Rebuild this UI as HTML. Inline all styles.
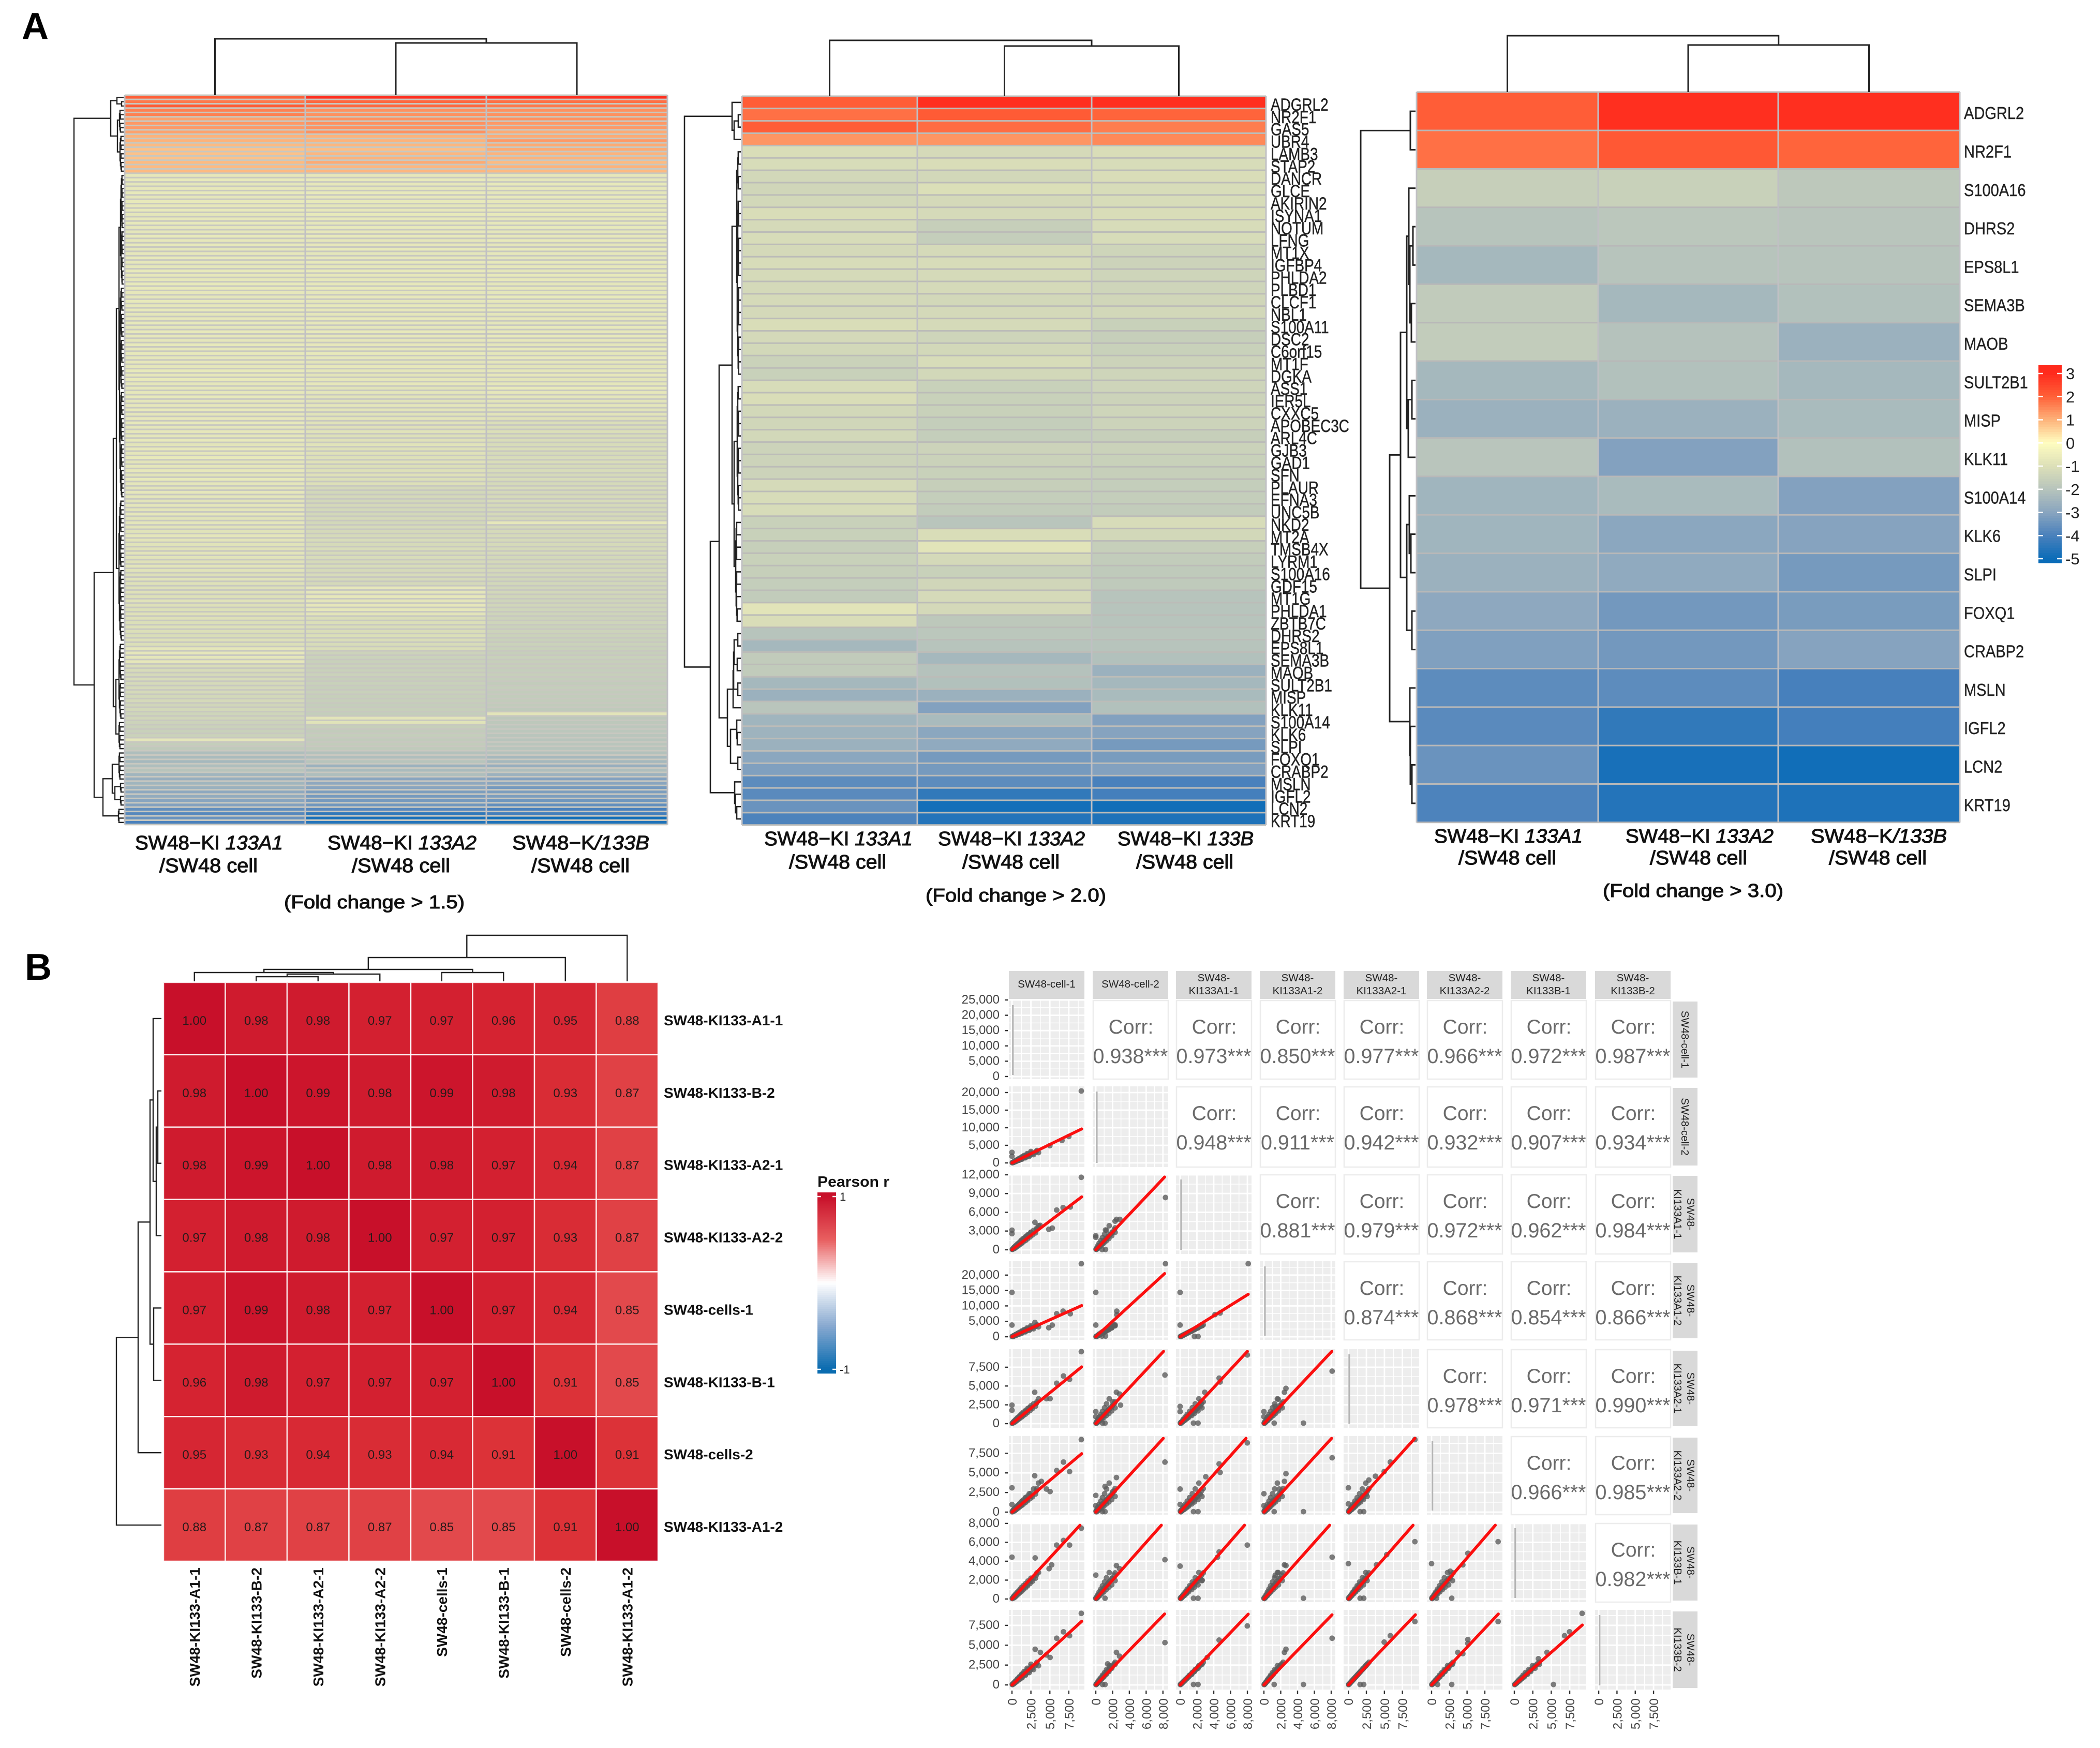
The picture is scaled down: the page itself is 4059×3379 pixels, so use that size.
<!DOCTYPE html>
<html lang="en">
<head>
<meta charset="utf-8">
<title>SW48 knock-in heatmaps and correlation</title>
<style>
html,body{margin:0;padding:0;background:#fff}
svg{display:block;font-family:"Liberation Sans",sans-serif}
.sub{font-size:38px;fill:#111;stroke:#111;stroke-width:1.1px}
.fold{font-size:36px;fill:#111;stroke:#111;stroke-width:1.1px}
.letter{font-size:72px;font-weight:bold;fill:#000}
</style>
</head>
<body>
<svg id="fig" xmlns="http://www.w3.org/2000/svg" width="4059" height="3379" viewBox="0 0 4059 3379">
<rect width="4059" height="3379" fill="#fff"/>
<text class="letter" x="42" y="75">A</text>
<text class="letter" x="48" y="1894">B</text>

<g id="hm1"></g>
<g id="hm2"></g>
<g id="hm3"></g>
<g id="cbar"></g>
<g id="hmB"></g>
<g id="scat"></g>

<g>
<text class="sub" x="261" y="1642" textLength="286" lengthAdjust="spacingAndGlyphs">SW48−KI <tspan font-style="italic">133A1</tspan></text>
<text class="sub" x="308" y="1686" textLength="190" lengthAdjust="spacingAndGlyphs">/SW48 cell</text>
<text class="sub" x="633" y="1642" textLength="288" lengthAdjust="spacingAndGlyphs">SW48−KI <tspan font-style="italic">133A2</tspan></text>
<text class="sub" x="680" y="1686" textLength="190" lengthAdjust="spacingAndGlyphs">/SW48 cell</text>
<text class="sub" x="990" y="1642" textLength="265" lengthAdjust="spacingAndGlyphs">SW48−K<tspan font-style="italic">/133B</tspan></text>
<text class="sub" x="1027" y="1686" textLength="190" lengthAdjust="spacingAndGlyphs">/SW48 cell</text>
<text class="fold" x="549" y="1756" textLength="349" lengthAdjust="spacingAndGlyphs">(Fold change &gt; 1.5)</text>
</g>
<g>
<text class="sub" x="1477" y="1634" textLength="287" lengthAdjust="spacingAndGlyphs">SW48−KI <tspan font-style="italic">133A1</tspan></text>
<text class="sub" x="1525" y="1679" textLength="188" lengthAdjust="spacingAndGlyphs">/SW48 cell</text>
<text class="sub" x="1813" y="1634" textLength="284" lengthAdjust="spacingAndGlyphs">SW48−KI <tspan font-style="italic">133A2</tspan></text>
<text class="sub" x="1860" y="1679" textLength="188" lengthAdjust="spacingAndGlyphs">/SW48 cell</text>
<text class="sub" x="2160" y="1634" textLength="263" lengthAdjust="spacingAndGlyphs">SW48−KI <tspan font-style="italic">133B</tspan></text>
<text class="sub" x="2196" y="1679" textLength="188" lengthAdjust="spacingAndGlyphs">/SW48 cell</text>
<text class="fold" x="1789" y="1743" textLength="349" lengthAdjust="spacingAndGlyphs">(Fold change &gt; 2.0)</text>
</g>
<g>
<text class="sub" x="2772" y="1629" textLength="287" lengthAdjust="spacingAndGlyphs">SW48−KI <tspan font-style="italic">133A1</tspan></text>
<text class="sub" x="2819" y="1671" textLength="189" lengthAdjust="spacingAndGlyphs">/SW48 cell</text>
<text class="sub" x="3142" y="1629" textLength="286" lengthAdjust="spacingAndGlyphs">SW48−KI <tspan font-style="italic">133A2</tspan></text>
<text class="sub" x="3189" y="1671" textLength="188" lengthAdjust="spacingAndGlyphs">/SW48 cell</text>
<text class="sub" x="3500" y="1629" textLength="263" lengthAdjust="spacingAndGlyphs">SW48−K<tspan font-style="italic">/133B</tspan></text>
<text class="sub" x="3535" y="1671" textLength="189" lengthAdjust="spacingAndGlyphs">/SW48 cell</text>
<text class="fold" x="3098" y="1734" textLength="349" lengthAdjust="spacingAndGlyphs">(Fold change &gt; 3.0)</text>
</g>
</svg>

<script>
// ---------- heatmap 1 (fold change > 1.5), log2 fold change by row ----------
const hm1ColA = [2.0,1.7,2.1,1.6,1.6,1.2,1.3,1.3,1.2,1.0,1.0,0.9,0.8,0.8,0.8,0.9,0.9,0.9,
-.75,-.7,-.8,-.75,-.7,-.8,-.7,-.75,-.7,-.8,-.75,-.7,-.75,-.8,-.7,-.75,-.7,-.8,-.75,
-.7,-.75,-.8,-.7,-.75,-.8,-.7,-.7,-.75,-.8,-.7,-.75,-.7,-.8,-.75,-.7,-.8,-.7,-.75,
-.8,-.7,-.75,-.7,-.8,-.75,-.8,-.7,-.75,-.7,-.8,-.8,-.75,-.7,-.8,-.75,-.7,-.8,-.75,
-.7,-.8,-.75,-.8,-.7,-.85,-.75,-.8,-.7,-.85,-.8,-.75,-.85,-.7,-.8,-.85,-.75,-.8,-.85,
-.8,-.85,-.75,-.9,-.8,-.85,-.9,-.8,-.85,-.9,-.95,-.85,-.9,-.95,-.85,-.9,-1,-.9,-.95,
-1,-.95,-1,-.9,-1,-1.05,-.95,-1,-1.05,-1,-1.05,-1.1,-1,-1.05,-.8,-.75,-.8,-.75,-1.1,
-1.15,-1.2,-1.15,-1.2,-1.25,-1.2,-1.3,-1.25,-1.35,-1.3,-1.4,-1.35,-1.45,-1.5,-1.55,-1.5,-.8,-1.65,-1.8,
-2.2,-2.3,-2.4,-2.2,-2.0,-2.5,-2.7,-2.5,-2.6,-2.9,-2.8,-3.0,-3.1,-3.6,-3.8,-3.5,-4.0];
const hm1ColB = [2.9,1.9,1.9,1.4,1.4,1.4,1.4,1.4,1.4,1.0,1.0,0.95,0.85,0.95,1.0,1.1,0.95,0.95,
-.75,-.7,-.75,-.8,-.7,-.75,-.7,-.8,-.75,-.7,-.75,-.8,-.7,-.75,-.7,-.8,-.75,-.7,-.8,
-.75,-.7,-.8,-.7,-.75,-.8,-.75,-.7,-.8,-.75,-.8,-.7,-.75,-.8,-.7,-.75,-.8,-.7,-.75,
-.8,-.75,-.8,-.7,-.8,-.85,-.75,-.8,-.85,-.8,-.75,-.9,-.8,-.85,-.9,-.8,-.85,-.9,-.85,
-.9,-.95,-.9,-1,-.95,-.9,-1,-.95,-1,-.95,-1.05,-1,-.95,-1.05,-1,-1.25,-1.3,-1.25,-1.3,
-1.25,-1.3,-1.3,-1.25,-1.3,-1.2,-1.25,-1.2,-1.15,-1.2,-1.15,-1.2,-1.15,-1.2,-1.15,-1.2,-1.15,-1.2,-1.25,
-.75,-.8,-.75,-.8,-.75,-.8,-.85,-1.1,-1.05,-1.1,-1.1,-1.05,-1.1,-1.15,-1.1,-1.45,-1.5,-1.55,-1.5,
-1.55,-1.5,-1.6,-1.55,-1.6,-1.55,-1.6,-1.6,-1.65,-1.6,-1.65,-.85,-.9,-1.6,-1.7,-1.65,-1.75,-1.7,-1.8,
-2.1,-2.2,-2.0,-2.6,-2.3,-2.2,-3.0,-2.9,-3.0,-3.2,-3.3,-3.3,-3.4,-3.8,-4.4,-4.8,-4.6];
const hm1ColC = [2.9,1.8,1.7,1.4,1.4,1.4,1.3,1.3,1.1,1.1,1.3,1.1,1.1,1.0,1.0,0.9,1.0,0.9,
-.75,-.8,-.7,-.75,-.8,-.7,-.75,-.8,-.75,-.7,-.8,-.75,-.7,-.8,-.75,-.7,-.8,-.7,-.75,
-.8,-.7,-.75,-.8,-.7,-.75,-.8,-.75,-.8,-.7,-.75,-.8,-.7,-.8,-.75,-.8,-.7,-.75,-.7,
-.75,-.8,-.7,-.8,-.75,-.8,-.85,-.8,-.75,-.85,-.8,-.7,-.75,-.8,-.85,-.8,-.9,-.85,-.95,
-1.05,-1.1,-1.05,-1.15,-1.1,-1.15,-1.1,-1.2,-1.15,-1.1,-1.2,-1.15,-1.2,-1.15,-1.2,-1.15,-1.25,-1.2,-1.15,
-1.2,-1.25,-1.2,-1.25,-.75,-1.25,-1.2,-1.2,-1.2,-1.2,-1.25,-1.2,-1.3,-1.25,-1.3,-1.25,-1.3,-1.35,-1.3,
-1.35,-1.3,-1.35,-1.4,-1.35,-1.4,-1.4,-1.45,-1.4,-1.5,-1.45,-1.5,-1.55,-1.5,-1.55,-1.6,-1.55,-1.6,-1.6,
-1.65,-1.6,-1.65,-1.7,-1.65,-1.7,-1.7,-1.7,-1.75,-1.8,-.85,-1.85,-1.85,-1.9,-1.9,-1.95,-2,-1.95,-2,
-2.1,-2.4,-2.4,-2.7,-2.2,-2.6,-3.1,-3.0,-3.3,-3.2,-3.2,-3.4,-3.6,-4.0,-4.1,-4.9,-4.7];

// ---------- heatmap 2 (fold change > 2.0) ----------
const hm2Genes = ["ADGRL2","NR2F1","GAS5","UBR4","LAMB3","STAP2","DANCR","GLCE","AKIRIN2","ISYNA1","NOTUM","LFNG","MT1X","IGFBP4","PHLDA2","PLBD1","CLCF1","NBL1","S100A11","DSC2","C6orf15","MT1F","DGKA","ASS1","IER5L","CXXC5","APOBEC3C","ARL4C","GJB3","GAD1","SFN","PLAUR","EFNA3","UNC5B","NKD2","MT2A","TMSB4X","LYRM1","S100A16","GDF15","MT1G","PHLDA1","ZBTB7C","DHRS2","EPS8L1","SEMA3B","MAOB","SULT2B1","MISP","KLK11","S100A14","KLK6","SLPI","FOXQ1","CRABP2","MSLN","IGFL2","LCN2","KRT19"];
const hm2ColA = [2.05,1.8,2.05,1.35,-1.1,-1.15,-1.3,-1.35,-1.3,-1.1,-1.2,-1.15,-1.25,-1.15,-1.2,-1.25,-1.2,-1.25,-1.1,-1.25,-1.3,-1.5,-1.55,-1.15,-1.1,-1.3,-1.35,-1.3,-1.45,-1.45,-1.45,-1.2,-1.15,-1.15,-1.55,-1.55,-1.6,-1.55,-1.6,-1.65,-1.7,-.85,-1.1,-2.0,-2.4,-1.75,-1.75,-2.4,-2.6,-1.95,-2.5,-2.55,-2.6,-2.95,-3.15,-3.7,-3.75,-3.5,-3.95];
const hm2ColB = [2.9,2.1,1.85,1.35,-1.2,-1.1,-1.3,-1.05,-1.25,-1.2,-1.6,-1.65,-1.2,-1.15,-1.2,-1.2,-1.3,-1.25,-1.2,-1.4,-1.3,-1.15,-1.3,-1.55,-1.55,-1.55,-1.65,-1.65,-1.45,-1.5,-1.55,-1.6,-1.65,-1.7,-1.95,-1.1,-.85,-1.25,-1.55,-1.35,-1.2,-1.25,-1.85,-1.9,-2.0,-2.4,-2.05,-2.1,-2.6,-3.1,-2.3,-2.95,-2.85,-3.3,-3.3,-3.7,-4.4,-4.85,-4.6];
const hm2ColC = [2.9,1.95,1.65,1.5,-1.1,-1.15,-1.1,-1.15,-1.15,-1.1,-1.15,-1.15,-1.4,-1.45,-1.4,-1.4,-1.35,-1.3,-1.55,-1.6,-1.55,-1.45,-1.4,-1.4,-1.45,-1.4,-1.45,-1.6,-1.5,-1.55,-1.6,-1.65,-1.65,-1.7,-1.15,-1.3,-1.6,-1.7,-1.8,-1.8,-2.0,-2.0,-2.0,-1.95,-2.0,-2.1,-2.6,-2.4,-2.3,-2.1,-3.1,-3.05,-3.3,-3.25,-3.1,-4.0,-4.1,-4.9,-4.7];

// ---------- heatmap 3 (fold change > 3.0) ----------
const hm3Genes = ["ADGRL2","NR2F1","S100A16","DHRS2","EPS8L1","SEMA3B","MAOB","SULT2B1","MISP","KLK11","S100A14","KLK6","SLPI","FOXQ1","CRABP2","MSLN","IGFL2","LCN2","KRT19"];
const hm3ColA = [2.05,1.8,-1.6,-2.0,-2.4,-1.75,-1.7,-2.4,-2.6,-1.95,-2.5,-2.5,-2.6,-2.9,-3.15,-3.7,-3.75,-3.5,-3.95];
const hm3ColB = [2.9,2.15,-1.55,-1.9,-2.0,-2.4,-2.05,-2.1,-2.6,-3.1,-2.3,-2.95,-2.85,-3.35,-3.35,-3.7,-4.4,-4.8,-4.6];
const hm3ColC = [2.9,1.95,-1.85,-1.95,-2.0,-2.1,-2.6,-2.4,-2.3,-2.1,-3.1,-3.05,-3.3,-3.25,-3.05,-4.05,-4.1,-4.9,-4.7];

// colour scale: log2 value -> colour
const foldValues = [3,2,1,0,-1,-2,-3,-4,-5];
const foldColors = ["#ff2a1c","#ff6038","#fdb27a","#fffdc0","#dde0b8","#b7c4bc","#89a5bf","#4a81bc","#0b6cb8"];

// ---------- Pearson heatmap ----------
const sampleNames = ["SW48-KI133-A1-1","SW48-KI133-B-2","SW48-KI133-A2-1","SW48-KI133-A2-2","SW48-cells-1","SW48-KI133-B-1","SW48-cells-2","SW48-KI133-A1-2"];
const pearsonRow0 = [1.00,0.98,0.98,0.97,0.97,0.96,0.95,0.88];
const pearsonRow1 = [0.98,1.00,0.99,0.98,0.99,0.98,0.93,0.87];
const pearsonRow2 = [0.98,0.99,1.00,0.98,0.98,0.97,0.94,0.87];
const pearsonRow3 = [0.97,0.98,0.98,1.00,0.97,0.97,0.93,0.87];
const pearsonRow4 = [0.97,0.99,0.98,0.97,1.00,0.97,0.94,0.85];
const pearsonRow5 = [0.96,0.98,0.97,0.97,0.97,1.00,0.91,0.85];
const pearsonRow6 = [0.95,0.93,0.94,0.93,0.94,0.91,1.00,0.91];
const pearsonRow7 = [0.88,0.87,0.87,0.87,0.85,0.85,0.91,1.00];
const pearsonValues = [1,0.97,0.91,0.85,0,-1];
const pearsonColors = ["#c8102a","#d32030","#dc3238","#e2494c","#ffffff","#0a6cb0"];

// ---------- scatter matrix ----------
const stripTop = [["SW48-cell-1"],["SW48-cell-2"],["SW48-","KI133A1-1"],["SW48-","KI133A1-2"],["SW48-","KI133A2-1"],["SW48-","KI133A2-2"],["SW48-","KI133B-1"],["SW48-","KI133B-2"]];
const xTicks = [[0,2500,5000,7500],[0,2000,4000,6000,8000],[0,2000,4000,6000,8000],[0,2000,4000,6000,8000],[0,2500,5000,7500],[0,2500,5000,7500],[0,2500,5000,7500],[0,2500,5000,7500]];
const yTicks = [[0,5000,10000,15000,20000,25000],[0,5000,10000,15000,20000],[0,3000,6000,9000,12000],[0,5000,10000,15000,20000],[0,2500,5000,7500],[0,2500,5000,7500],[0,2000,4000,6000,8000],[0,2500,5000,7500]];
const xDomain = [[-410,9560],[-370,8630],[-490,8490],[-490,8490],[-660,9820],[-655,9980],[-490,9740],[-500,9830]];
const yDomain = [[-850,25000],[-1176,21760],[-670,12080],[-1000,24500],[-550,9900],[-330,9700],[-330,8050],[-580,9450]];
const corrValues = [
 [null,0.938,0.973,0.850,0.977,0.966,0.972,0.987],
 [null,null,0.948,0.911,0.942,0.932,0.907,0.934],
 [null,null,null,0.881,0.979,0.972,0.962,0.984],
 [null,null,null,null,0.874,0.868,0.854,0.866],
 [null,null,null,null,null,0.978,0.971,0.990],
 [null,null,null,null,null,null,0.966,0.985],
 [null,null,null,null,null,null,null,0.982]];
const fitSlopes = [
 [],[1.05],[0.92,1.42],[1.1,2.5,1.7],[0.82,1.19,1.2,1.19],[0.81,1.17,1.2,1.17,1.02],[0.87,1.0,1.02,1.0,0.87,0.87],[0.87,1.09,1.1,1.09,0.95,0.95,0.82]];
const fitEndX = [9200,8200,8100,8100,9300,9400,9200];
// Low-expression gene cloud: x value per column, y value per row
const cloudX0 = [60,40,190,230,200,390,310,520,430,680,580,860,720,1050,900,1280,1080,1480,1250,1780,1500,2050,1800,2380,2100,2700,2500,3100,3200,3300,190,240,570,480,950,720,1330,960,1770,1280,2280,1600,2850,2000,3500,2500];
const cloudX1 = [30,70,90,150,160,230,250,300,370,390,490,500,610,620,740,760,880,890,1060,1050,1230,1240,1450,1450,1680,1680,1950,1950,2200,2300,80,260,250,490,400,720,600,960,800,1250,1050,1560,1280,1900,1600,2300];
const cloudX2 = [30,80,110,160,210,250,300,370,420,480,550,620,690,760,840,920,1010,1100,1200,1300,1400,1520,1640,1770,1900,2050,2210,2380,2540,2750,120,260,360,510,600,760,850,1000,1130,1380,1450,1700,1800,2130,2230,2600];
const cloudX3 = [30,60,100,130,170,210,250,300,350,400,460,510,570,630,690,760,840,910,990,1070,1160,1260,1360,1470,1580,1700,1840,1970,2110,2280,80,220,260,430,420,620,600,830,800,1100,1020,1380,1280,1730,1600,2180];
const cloudX4 = [30,80,120,160,210,260,320,370,430,500,570,640,710,790,870,950,1050,1140,1240,1340,1450,1570,1700,1840,1970,2130,2300,2470,2640,2850,130,250,390,500,650,760,900,1010,1220,1340,1560,1690,1940,2100,2420,2600];
const cloudX5 = [40,80,130,170,220,290,330,400,460,530,600,680,760,840,920,1010,1110,1210,1310,1420,1540,1670,1800,1940,2090,2250,2430,2610,2790,3020,110,300,350,590,600,880,850,1170,1120,1530,1450,1900,1800,2400,2250,2950];
const cloudX6 = [40,90,140,190,250,310,370,440,510,590,670,750,840,930,1020,1120,1230,1340,1460,1580,1710,1850,2000,2160,2320,2500,2700,2900,3100,3350,120,330,380,660,630,1000,900,1330,1180,1780,1500,2220,1950,2800,2450,3400];
const cloudY1 = [60,80,170,180,280,320,400,450,550,600,720,770,900,950,1100,1150,1300,1390,1530,1640,1800,1930,2100,2260,2440,2620,2840,3040,3250,3520,160,310,480,620,790,940,1100,1260,1470,1680,1890,2100,2360,2620,2940,3250];
const cloudY2 = [90,60,180,160,300,270,430,390,580,530,740,680,910,860,1100,1040,1300,1260,1550,1480,1800,1760,2100,2050,2400,2380,2800,2700,3200,3500,220,280,650,540,1050,800,1470,1080,1950,1440,2500,1800,3100,2250,3850,2800];
const cloudY3 = [50,110,160,220,290,360,430,510,590,680,770,860,970,1070,1170,1290,1410,1540,1680,1820,1970,2130,2300,2480,2670,2880,3110,3340,3570,3850,170,340,520,690,860,1030,1210,1380,1610,1840,2070,2300,2590,2880,3220,3560];
const cloudY4 = [80,50,160,130,250,230,350,330,480,450,620,590,780,730,920,880,1100,1060,1290,1260,1520,1490,1760,1730,2030,2010,2370,2310,2680,2900,200,210,560,400,880,620,1230,820,1630,1090,2110,1360,2630,1700,3300,2100];
const cloudY5 = [120,40,200,110,300,200,400,300,520,420,650,560,800,700,950,850,1130,1010,1320,1230,1550,1450,1780,1700,2060,1950,2380,2300,2700,3000,230,190,620,360,1000,560,1400,760,1850,1040,2350,1300,2950,1600,3700,2000];
const cloudY6 = [90,50,170,110,250,200,350,300,460,420,590,550,730,690,870,830,1040,1000,1220,1190,1420,1400,1640,1640,1900,1880,2200,2200,2530,2760,170,200,450,380,750,580,1050,760,1400,1000,1800,1250,2250,1500,2800,1950];
const cloudY7 = [40,80,120,160,210,260,320,370,430,500,570,640,710,790,870,950,1050,1140,1240,1340,1450,1570,1700,1840,1970,2130,2300,2470,2640,2850,130,250,390,500,650,760,900,1010,1220,1340,1560,1690,1940,2100,2420,2600];
// High-expression and off-diagonal genes per panel, "row-col": [x,y] in expression units
const outlierPoints = {
"1-0":[[9150,20450],[7500,7500],[6600,6400],[5000,4900],[0,3000],[0,1900]],
"2-0":[[9150,11600],[5900,6360],[6750,6750],[7700,6850],[3030,4400],[4860,3280],[5320,3470],[3720,3900],[0,3140],[0,2580]],
"2-1":[[8300,8360],[2470,4860],[2870,4860],[2300,4580],[1160,3170],[0,2250],[0,2000],[750,50],[1160,50]],
"3-0":[[9150,23700],[0,14400],[0,3800],[5900,7470],[6750,8300],[7700,7470],[3030,4630],[4860,2930],[5320,3780]],
"3-1":[[8300,23700],[0,14400],[0,3800],[2500,8300],[2500,7170],[2170,3780],[1860,2930],[750,200],[1160,200]],
"3-2":[[8100,23700],[0,14400],[0,3800],[4150,7200],[4760,7700],[1700,100],[2130,100]],
"4-0":[[9150,9570],[6800,6330],[7600,5880],[5900,5370],[3000,4170],[5030,3320],[4550,3320],[0,2460],[0,1780]],
"4-1":[[8240,6460],[2460,4170],[2830,3930],[2030,2900],[2950,2460],[0,1600],[0,920],[1100,70],[800,70]],
"4-2":[[7990,9130],[4640,6050],[4760,5540],[2930,4170],[2440,2900],[0,2290],[0,1600],[1590,70],[2130,70]],
"4-3":[[8110,6980],[2620,4690],[2440,4170],[1700,3250],[1340,2290],[0,1600],[0,920],[1220,70],[4700,70]],
"5-0":[[9150,9250],[6800,6380],[7600,5170],[5900,5300],[3000,4640],[5030,2620],[4550,2940],[0,3100],[0,980],[3880,3920]],
"5-1":[[8240,6380],[2460,4410],[1100,3270],[0,2130],[0,820],[2030,2620],[1100,60],[800,60]],
"5-2":[[7990,8830],[4640,6150],[4760,5070],[3050,4510],[0,2940],[0,980],[1590,60],[2130,60]],
"5-3":[[8110,6930],[2620,4900],[2440,3920],[1830,2940],[0,2350],[0,820],[1220,60],[4700,60]],
"5-4":[[9230,9250],[5820,6380],[4970,5170],[3760,4580],[2840,4090],[0,3100],[0,1050],[1630,60],[2130,60]],
"6-0":[[9150,7500],[5900,5710],[6800,6200],[7600,5710],[3060,4350],[4900,3210],[5240,3620],[0,4430]],
"6-1":[[8240,4160],[2460,3540],[2830,3210],[0,2530],[1100,80],[0,80]],
"6-2":[[7990,5710],[4640,4980],[4450,4430],[2620,1990],[0,3480],[1590,80],[2130,80]],
"6-3":[[8110,4430],[2620,3540],[2440,3620],[1700,2800],[1340,2500],[0,80],[4700,80]],
"6-4":[[9230,6070],[5320,4700],[3900,3620],[0,3750],[1630,80],[2130,80]],
"6-5":[[9370,6070],[5110,4840],[4400,3620],[2630,2940],[0,3750],[700,80],[2840,80]],
"7-0":[[9150,9010],[6800,6690],[7600,6200],[5900,5880],[3060,4490],[5030,3460],[4550,3780],[3750,4100]],
"7-1":[[8240,5330],[2460,4100],[2830,3620],[1410,2650],[1100,60],[800,60]],
"7-2":[[7990,7430],[4640,5650],[3230,3460],[1590,60],[2130,60]],
"7-3":[[8110,5880],[2620,4490],[2440,4100],[1220,60],[4700,60]],
"7-4":[[9230,7980],[5820,6200],[4970,5390],[1630,60],[2130,60]],
"7-5":[[9370,7980],[5110,5720],[5110,5230],[3690,4100],[4400,3940],[850,60],[2840,60]],
"7-6":[[9180,9010],[7480,6690],[6800,6200],[4420,4100],[3260,3300],[5300,60]]
};

// ---------- helpers ----------
const NS = "http://www.w3.org/2000/svg";
function mk(tag, attrs, parent){
  const e = document.createElementNS(NS, tag);
  for(const k in attrs) e.setAttribute(k, attrs[k]);
  parent.appendChild(e);
  return e;
}
function lerpColor(vals, cols, v){
  if(v >= vals[0]) return cols[0];
  for(let i=1;i<vals.length;i++){
    if(v >= vals[i]){
      const t=(vals[i-1]-v)/(vals[i-1]-vals[i]);
      const a=cols[i-1], b=cols[i];
      let s="rgb(";
      for(let j=0;j<3;j++){
        const ca=parseInt(a.substr(1+j*2,2),16), cb=parseInt(b.substr(1+j*2,2),16);
        s+=Math.round(ca+(cb-ca)*t)+(j<2?",":")");
      }
      return s;
    }
  }
  return cols[cols.length-1];
}
const foldColor = v => lerpColor(foldValues, foldColors, v);
const pearsonColor = v => lerpColor(pearsonValues, pearsonColors, v);

// balanced tight cluster of n leaves (0 marks a leaf, taken in row order)
function bal(n, h){
  if(n===1) return 0;
  const k=n>>1;
  const c=Math.max(3,h-0.9);
  return [h, bal(k,c), bal(n-k,c)];
}
// Walk a [height,left,right] tree; leaves are consumed in order
function treePath(node, leafPos, toXY){
  let idx=0, d="";
  function walk(n){
    if(n===0){ return {p:leafPos(idx++), h:0}; }
    const a=walk(n[1]), b=walk(n[2]);
    const h=n[0];
    const A0=toXY(a.p,a.h), A1=toXY(a.p,h), B1=toXY(b.p,h), B0=toXY(b.p,b.h);
    d+="M"+A0.join(" ")+"L"+A1.join(" ")+"L"+B1.join(" ")+"L"+B0.join(" ");
    return {p:(a.p+b.p)/2, h:h};
  }
  walk(node);
  return d;
}

function drawHeat(g, o){
  const nRows=o.cols[0].length, rowH=(o.y1-o.y0)/nRows;
  const yOf=i=>o.y0+i*rowH;
  o.cols.forEach((col,c)=>{
    col.forEach((v,i)=>{
      const cell=mk("rect",{x:o.xs[c],y:yOf(i),width:o.xs[c+1]-o.xs[c],height:rowH+0.3,fill:foldColor(v)},g);
      
      
    });
  });
  let d="";
  for(let i=0;i<=nRows;i++) d+="M"+o.xs[0]+" "+(yOf(i)-(i===0?0:0.2))+"H"+o.xs[3];
  const rowLines=mk("path",{d:d,stroke:o.lineColor,"stroke-width":o.lineW,fill:"none"},g);
  
  
  let dv="";
  o.xs.forEach(x=>{dv+="M"+x+" "+o.y0+"V"+o.y1;});
  const colLines=mk("path",{d:dv,stroke:"#c0c0c4","stroke-width":3,fill:"none"},g);
  
  
  // dendrograms
  const leftD=treePath(o.rowTree,i=>yOf(i+0.5),(p,h)=>[o.xs[0]-2-h,p]);
  const lp=mk("path",{d:leftD,stroke:"#222",fill:"none","stroke-width":o.dendW||2.6},g);
  
  
  const centers=[0,1,2].map(c=>(o.xs[c]+o.xs[c+1])/2);
  const topD=treePath(o.colTree,i=>centers[i],(p,h)=>[p,o.y0-h]);
  const tp=mk("path",{d:topD,stroke:"#222",fill:"none","stroke-width":3},g);
  
  
  if(o.genes){
    o.genes.forEach((name,i)=>{
      const t=mk("text",{transform:"translate("+o.labelX+" "+(yOf(i+0.5)+o.labelDy)+") scale("+o.labelSx+" "+o.labelSy+")","font-size":o.labelSize,fill:"#222",stroke:"#222","stroke-width":0.4},g);
      
      
      t.textContent=name;
    });
  }
}

// heatmap 1
const hm1RowTree=[96,
  [25,[13,0,[4,0,0]],[12,bal(6,8),bal(9,7)]],
  [57,
    [20,
      [14,[9,bal(26,6),bal(49,8)],bal(33,9)],
      [15,bal(18,9),bal(7,9)]],
    [40,
      [22,bal(7,9),[17,bal(3,6),bal(3,6)]],
      bal(4,10)]]];
drawHeat(document.getElementById("hm1"),{
  xs:[241,590,940,1290],y0:184,y1:1594,cols:[hm1ColA,hm1ColB,hm1ColC],
  lineColor:"#c8c8c0",lineW:3.1,rowTree:hm1RowTree,colTree:[109,0,[101,0,0]],dendW:2.4});

// heatmap 2
const hm2RowTree=[109,
  [17,0,[13,[5,0,0],0]],
  [59,
    [42,
      [17,[8,bal(4,6),bal(15,7)],[13,bal(11,7),bal(9,10)]],
      [26,[15,[14,[13,[6,0,0],[7,0,0]],[6,0,0]],0],[20,[8,0,[7,0,0]],[6,0,0]]]],
    [12,0,[10.5,0,[8,0,0]]]]];
drawHeat(document.getElementById("hm2"),{
  xs:[1434,1773,2110,2447],y0:186,y1:1595,cols:[hm2ColA,hm2ColB,hm2ColC],
  lineColor:"#bcbcb8",lineW:3,rowTree:hm2RowTree,colTree:[108,0,[97,0,0]],
  genes:hm2Genes,labelX:2456,labelDy:16,labelSize:30,labelSx:0.93,labelSy:1.15});

// heatmap 3
const hm3RowTree=[106,
  [10,0,0],
  [50,
    [29,
      [17,[13,0,[11,[5,0,0],[8,0,0]]],[14,[7,0,0],0]],
      [17,[12,0,[9,0,0]],[7,0,0]]],
    [11,0,[10,0,[7,0,0]]]]];
drawHeat(document.getElementById("hm3"),{
  xs:[2738,3089,3437,3788],y0:178,y1:1590,cols:[hm3ColA,hm3ColB,hm3ColC],
  lineColor:"#b8b8b8",lineW:3,rowTree:hm3RowTree,colTree:[109,0,[91,0,0]],
  genes:hm3Genes,labelX:3796,labelDy:15,labelSize:33,labelSx:0.88,labelSy:1,dendW:3});

// fold change colour bar
(function(){
  const g=document.getElementById("cbar");
  const x0=3940,w=45;
  const yOf=v=>722+(3-v)*44.75;
  const dom=[3.3,-5.13];
  const steps=[];
  for(let i=0;i<80;i++) steps.push(dom[0]+(dom[1]-dom[0])*i/79);
  steps.forEach(v=>{
    const s=mk("rect",{x:x0,y:yOf(v)-2.6,width:w,height:5.4,fill:foldColor(v)},g);
    
    
  });
  foldValues.forEach(v=>{
    const tk=mk("path",{d:"M"+x0+" "+yOf(v)+"h9M"+(x0+w-9)+" "+yOf(v)+"h9",stroke:"#fff","stroke-width":2.5},g);
    
    
    const t=mk("text",{x:x0+(v<0?52:53),y:yOf(v)+11,"font-size":31,fill:"#222"},g);
    
    
    t.textContent=String(v);
  });
})();

// Pearson heatmap
(function(){
  const g=document.getElementById("hmB");
  const rows=[pearsonRow0,pearsonRow1,pearsonRow2,pearsonRow3,pearsonRow4,pearsonRow5,pearsonRow6,pearsonRow7];
  const x0=316,x1=1272,y0=1899,y1=3018,n=rows.length;
  const cw=(x1-x0)/n,ch=(y1-y0)/n;
  const X=i=>x0+i*cw, Y=i=>y0+i*ch;
  rows.forEach((row,r)=>row.forEach((v,c)=>{
    const cell=mk("rect",{x:X(c),y:Y(r),width:cw,height:ch,fill:pearsonColor(v),stroke:"#fff","stroke-opacity":0.85,"stroke-width":2.5},g);
    
    
    const t=mk("text",{x:X(c+0.5),y:Y(r+0.5)+12,"font-size":24,"text-anchor":"middle",fill:"#2a1a1a"},g);
    
    
    t.textContent=v.toFixed(2);
  }));
  sampleNames.forEach((name,i)=>{
    const t=mk("text",{x:1283,y:Y(i+0.5)+13,"font-size":28,"font-weight":"bold",fill:"#111"},g);
    
    
    t.textContent=name;
    const b=mk("text",{transform:"translate("+(X(i+0.5)+10)+" 3030) rotate(-90)","font-size":28,"font-weight":"bold","text-anchor":"end",fill:"#111"},g);
    
    
    b.textContent=name;
  });
  const topTree=[89,[46,[23,[17,0,[14,[9,0,0],0]],[17,0,0]],0],0];
  const tp=mk("path",{d:treePath(topTree,i=>X(i+0.5),(p,h)=>[p,1897-h]),stroke:"#222",fill:"none","stroke-width":2.4},g);
  
  
  const leftTree=[87,[45,[22,[16,0,[10,[7,0,0],0]],[15,0,0]],0],0];
  const lp=mk("path",{d:treePath(leftTree,i=>Y(i+0.5),(p,h)=>[312-h,p]),stroke:"#222",fill:"none","stroke-width":2.4},g);
  
  
  // legend
  const tickHi=2313,tickLo=2647;
  const legY=v=>tickLo-(v+1)/2*(tickLo-tickHi);
  for(let i=0;i<90;i++){
    const v=1.035-2.07*i/89;
    const tone=v>=0?lerpColor([1,0.5,0],["#c8102a","#e85f60","#ffffff"],v):lerpColor([0,-0.5,-1],["#ffffff","#88a9d0","#0a6cb0"],v);
    const s=mk("rect",{x:1580,y:legY(v)-2.2,width:36,height:4.6,fill:tone},g);
    
    
  }
  [1,-1].forEach(v=>{
    const tk=mk("path",{d:"M1580 "+legY(v)+"h7M1609 "+legY(v)+"h7",stroke:"#fff","stroke-width":2.5},g);
    
    
    const t=mk("text",{x:1623,y:legY(v)+8,"font-size":22,fill:"#222"},g);
    
    
    t.textContent=String(v);
  });
  const title=mk("text",{x:1580,y:2294,"font-size":29,"font-weight":"bold",fill:"#111",textLength:139,lengthAdjust:"spacingAndGlyphs"},g);
  
  
  title.textContent="Pearson r";
})();

// scatter matrix
(function(){
  const g=document.getElementById("scat");
  const cloudX=[cloudX0,cloudX1,cloudX2,cloudX3,cloudX4,cloudX5,cloudX6];
  const cloudY=[null,cloudY1,cloudY2,cloudY3,cloudY4,cloudY5,cloudY6,cloudY7];
  const colLeft=[1950,2112,2273,2435,2597,2758,2920,3083];
  const colW=146;
  const rowTop=[1933,2100,2270,2438,2608,2776,2944,3112];
  const rowH=[153,156,154,152,152,152,153,154];
  const xScale=c=>v=>colLeft[c]+(v-xDomain[c][0])/(xDomain[c][1]-xDomain[c][0])*colW;
  const yScale=r=>v=>rowTop[r]+rowH[r]-(v-yDomain[r][0])/(yDomain[r][1]-yDomain[r][0])*rowH[r];

  function grid(pg,r,c){
    const sx=xScale(c), sy=yScale(r);
    const L=colLeft[c], R=L+colW, T=rowTop[r], B=T+rowH[r];
    const bg=mk("rect",{x:L,y:T,width:colW,height:rowH[r],fill:"#ededed"},pg);
    
    
    let maj="",min="";
    const xt=xTicks[c], yt=yTicks[r];
    const xs=xt[1]-xt[0], ys=yt[1]-yt[0];
    xt.forEach(v=>{maj+="M"+sx(v)+" "+T+"V"+B;});
    yt.forEach(v=>{maj+="M"+L+" "+sy(v)+"H"+R;});
    for(let v=xt[0]+xs/2;sx(v)<R;v+=xs) min+="M"+sx(v)+" "+T+"V"+B;
    for(let v=yt[0]+ys/2;sy(v)>T;v+=ys) min+="M"+L+" "+sy(v)+"H"+R;
    const mn=mk("path",{d:min,stroke:"#fff","stroke-width":1.4,fill:"none"},pg);
    
    
    const mj=mk("path",{d:maj,stroke:"#fff","stroke-width":2.8,fill:"none"},pg);
    
    
  }

  for(let r=0;r<8;r++){
    for(let c=0;c<8;c++){
      const pg=mk("g",{},g);
      
      
      const L=colLeft[c], T=rowTop[r];
      if(r<c){
        const box=mk("rect",{x:L+1,y:T+1,width:colW-1,height:rowH[r]-1,fill:"#fff",stroke:"#ececec","stroke-width":2.5},pg);
        
        
        const a=mk("text",{x:L+colW/2+1,y:T+65,"font-size":39,"text-anchor":"middle",fill:"#6a6a6a"},pg);
        
        
        a.textContent="Corr:";
        const b=mk("text",{x:L+colW/2,y:T+122,"font-size":39.5,"text-anchor":"middle",fill:"#6a6a6a"},pg);
        
        
        b.textContent=corrValues[r][c].toFixed(3)+"***";
      } else if(r===c){
        grid(pg,r,c);
        const sx=xScale(c);
        const ln=mk("line",{x1:sx(120),x2:sx(120),y1:T+10,y2:T+rowH[r]-8,stroke:"#b4b4b4","stroke-width":3.2},pg);
        
        
      } else {
        grid(pg,r,c);
        const sx=xScale(c), sy=yScale(r);
        cloudX[c].forEach((xv,i)=>{
          const p=mk("circle",{cx:sx(xv),cy:sy(cloudY[r][i]),r:5.4,fill:"#5c5c5c","fill-opacity":0.8},pg);
          
          
        });
        (outlierPoints[r+"-"+c]||[]).forEach(pt=>{
          const p=mk("circle",{cx:sx(pt[0]),cy:sy(pt[1]),r:5.4,fill:"#5c5c5c","fill-opacity":0.8},pg);
          
          
        });
        const slope=fitSlopes[r][c];
        const yLimit=yDomain[r][1]*0.97;
        const xEnd=Math.min(fitEndX[c],yLimit/slope);
        const fit=mk("line",{x1:sx(0),y1:sy(0),x2:sx(xEnd),y2:sy(slope*xEnd),stroke:"#fb0f0f","stroke-width":5.8,"stroke-linecap":"round"},pg);
        
        
      }
    }
  }

  // y axis
  yTicks.forEach((ticks,r)=>{
    const sy=yScale(r);
    ticks.forEach(v=>{
      const tk=mk("line",{x1:1942,x2:1948,y1:sy(v),y2:sy(v),stroke:"#333","stroke-width":2.4},g);
      
      
      const t=mk("text",{x:1932,y:sy(v)+7,"font-size":24,"text-anchor":"end",fill:"#444"},g);
      
      
      t.textContent=v.toLocaleString("en-US");
    });
  });
  // x axis
  xTicks.forEach((ticks,c)=>{
    const sx=xScale(c);
    ticks.forEach(v=>{
      const tk=mk("line",{x1:sx(v),x2:sx(v),y1:3268,y2:3275,stroke:"#333","stroke-width":2.4},g);
      
      
      const t=mk("text",{transform:"translate("+(sx(v)+9)+" 3283) rotate(-90)","font-size":24,"text-anchor":"end",fill:"#444"},g);
      
      
      t.textContent=v.toLocaleString("en-US");
    });
  });
  // strips
  stripTop.forEach((lines,i)=>{
    const s=mk("rect",{x:colLeft[i],y:1877,width:colW,height:54,fill:"#d9d9d9"},g);
    
    
    const ys=lines.length===1?[1909]:[1897,1922];
    lines.forEach((line,k)=>{
      const t=mk("text",{x:colLeft[i]+colW/2,y:ys[k],"font-size":20.5,"text-anchor":"middle",fill:"#222"},g);
      
      
      t.textContent=line;
    });
    const rs=mk("rect",{x:3233,y:rowTop[i]+3,width:48,height:rowH[i]-6,fill:"#d9d9d9"},g);
    
    
    const xs=lines.length===1?[3250]:[3261,3236];
    lines.forEach((line,k)=>{
      const t=mk("text",{transform:"translate("+xs[k]+" "+(rowTop[i]+rowH[i]/2)+") rotate(90)","font-size":20.5,"text-anchor":"middle",fill:"#222"},g);
      
      
      t.textContent=line;
    });
  });
})();
</script>
</body>
</html>
